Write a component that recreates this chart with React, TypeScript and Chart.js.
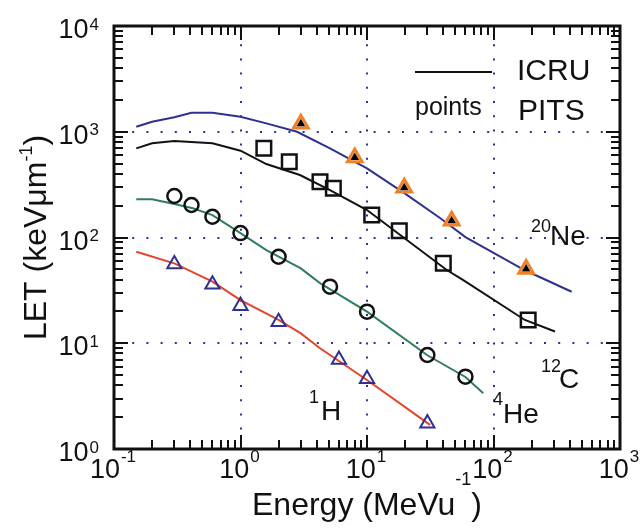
import React, { useEffect, useRef } from "react";
import { Chart, registerables } from "chart.js";
Chart.register(...registerables);

// ---- ICRU curves (energy MeV/u, LET keV/um) ----
const neLineE = [0.15, 0.2, 0.3, 0.41, 0.6, 1, 1.6, 2.8, 5.1, 10, 20, 38, 60, 177, 415];
const neLineLET = [1116, 1245, 1370, 1510, 1510, 1387, 1200, 1000, 697, 451, 260, 152, 101, 49, 30.7];
const cLineE = [0.15, 0.2, 0.3, 0.6, 1, 1.6, 2.95, 5.1, 10, 42.7, 57.7, 177, 306];
const cLineLET = [697, 778, 817, 778, 662, 495, 390, 281, 182, 49.3, 39.6, 16.6, 12.9];
const heLineE = [0.15, 0.2, 0.3, 0.42, 0.6, 1, 1.6, 3, 4.25, 10, 30, 60, 83];
const heLineLET = [230, 230, 207, 189, 163, 110, 76, 51, 37, 19.9, 7.7, 4.8, 3.36];
const hLineE = [0.15, 0.3, 0.6, 1, 2, 3, 4.25, 5.1, 10, 31.5];
const hLineLET = [73.4, 57, 38.2, 25.6, 16.6, 12.4, 8.96, 7.74, 4.49, 1.69];

// ---- PITS points ----
const nePtsE = [3, 8, 19.7, 46.7, 181];
const nePtsLET = [1190, 570, 295, 144, 50.5];
const cPtsE = [1.53, 2.43, 4.25, 5.42, 10.9, 18, 40.1, 188];
const cPtsLET = [697, 521, 337, 292, 163, 116, 57, 16.6];
const hePtsE = [0.3, 0.41, 0.6, 1, 2, 5.1, 10, 30, 60];
const hePtsLET = [247, 203, 157, 110, 65.8, 34.3, 19.9, 7.74, 4.83];
const hPtsE = [0.3, 0.6, 1, 2, 6, 10, 30];
const hPtsLET = [56, 36, 22.6, 15.9, 7, 4.6, 1.75];

// ---- axes ----
const xExponents = [-1, 0, 1, 2, 3];
const yExponents = [0, 1, 2, 3, 4];
const gridX = [1, 10, 100];
const gridY = [10, 100, 1000];
const minorMultipliers = [1, 2, 3, 4, 5, 6, 7, 8, 9];

const NAVY = "#2e3192";
const GREEN = "#2f7d60";
const RED = "#e5432c";
const ORANGE = "#ef8229";
const FONT = '"Liberation Sans", Arial, Helvetica, sans-serif';

const pts = (xs: number[], ys: number[]) => xs.map((v, i) => ({ x: v, y: ys[i] }));

function tickValues(exps: number[]) {
  const out: { v: number; major: boolean }[] = [];
  for (let i = 0; i < exps.length - 1; i++) {
    for (const m of minorMultipliers) out.push({ v: m * Math.pow(10, exps[i]), major: m === 1 });
  }
  out.push({ v: Math.pow(10, exps[exps.length - 1]), major: true });
  return out;
}

function setFont(ctx: CanvasRenderingContext2D, size: number) {
  ctx.font = `${size}px ${FONT}`;
}

function drawParts(ctx: CanvasRenderingContext2D, parts: [string, number, number][], x: number, y: number) {
  let cx = x;
  for (const [s, size, raise] of parts) {
    setFont(ctx, size);
    ctx.fillText(s, cx, y - raise);
    cx += ctx.measureText(s).width;
  }
  return cx;
}
function partsWidth(ctx: CanvasRenderingContext2D, parts: [string, number, number][]) {
  let w = 0;
  for (const [s, size] of parts) {
    setFont(ctx, size);
    w += ctx.measureText(s).width;
  }
  return w;
}

const decorPlugin = {
  id: "decor",
  beforeDatasetsDraw(chart: any) {
    const { ctx, chartArea: a, scales } = chart;
    const x = scales.x, y = scales.y;
    ctx.save();
    ctx.strokeStyle = NAVY;
    ctx.lineWidth = 2;
    ctx.setLineDash([2, 12.2]);
    for (const v of gridX) {
      const px = Math.round(x.getPixelForValue(v));
      ctx.beginPath();
      ctx.moveTo(px, a.top + 4);
      ctx.lineTo(px, a.bottom);
      ctx.stroke();
    }
    for (const v of gridY) {
      const py = Math.round(y.getPixelForValue(v));
      ctx.beginPath();
      ctx.moveTo(a.left + 4, py);
      ctx.lineTo(a.right, py);
      ctx.stroke();
    }
    ctx.restore();
  },
  afterDatasetsDraw(chart: any) {
    const { ctx, chartArea: a, scales } = chart;
    const x = scales.x, y = scales.y;
    ctx.save();
    ctx.setLineDash([]);
    ctx.strokeStyle = "#111";
    ctx.fillStyle = "#111";
    ctx.lineWidth = 2;
    const MAJ = 14, MIN = 9;
    for (const t of tickValues(xExponents)) {
      const px = Math.round(x.getPixelForValue(t.v));
      const len = t.major ? MAJ : MIN;
      ctx.beginPath();
      ctx.moveTo(px, a.bottom); ctx.lineTo(px, a.bottom - len);
      ctx.moveTo(px, a.top); ctx.lineTo(px, a.top + len);
      ctx.stroke();
    }
    for (const t of tickValues(yExponents)) {
      const py = Math.round(y.getPixelForValue(t.v));
      const len = t.major ? MAJ : MIN;
      ctx.beginPath();
      ctx.moveTo(a.left, py); ctx.lineTo(a.left + len, py);
      ctx.moveTo(a.right, py); ctx.lineTo(a.right - len, py);
      ctx.stroke();
    }
    ctx.lineWidth = 3;
    ctx.strokeRect(a.left, a.top, a.right - a.left, a.bottom - a.top);

    ctx.textBaseline = "alphabetic";
    ctx.textAlign = "left";
    for (const e of xExponents) {
      const px = x.getPixelForValue(Math.pow(10, e));
      setFont(ctx, 27);
      const wb = ctx.measureText("10").width;
      setFont(ctx, 17);
      const ws = ctx.measureText(String(e)).width;
      const start = px - 1 - (wb + 1 + ws) / 2;
      setFont(ctx, 27);
      ctx.fillText("10", start, a.bottom + 29);
      setFont(ctx, 17);
      ctx.fillText(String(e), start + wb + 1, a.bottom + 13);
    }
    for (const e of yExponents) {
      const py = y.getPixelForValue(Math.pow(10, e));
      setFont(ctx, 17);
      const ws = ctx.measureText(String(e)).width;
      setFont(ctx, 27);
      const wb = ctx.measureText("10").width;
      const right = a.left - 15;
      ctx.fillText("10", right - ws - 1 - wb, py + 12);
      setFont(ctx, 17);
      ctx.fillText(String(e), right - ws, py + 3.5);
    }
    const xt: [string, number, number][] = [["Energy (MeVu", 32, 0], ["-1", 18, 30], [")", 32, 0]];
    const xw = partsWidth(ctx, xt);
    drawParts(ctx, xt, (a.left + a.right) / 2 - xw / 2, 515);
    const yt: [string, number, number][] = [["LET (keV\u03bcm", 32, 0], ["-1", 18, 14], [")", 32, 0]];
    const yw = partsWidth(ctx, yt);
    ctx.save();
    ctx.translate(46, (a.top + a.bottom) / 2);
    ctx.rotate(-Math.PI / 2);
    drawParts(ctx, yt, -yw / 2, 0);
    ctx.restore();

    ctx.lineWidth = 2;
    ctx.beginPath();
    ctx.moveTo(415, 72);
    ctx.lineTo(492, 72);
    ctx.stroke();
    setFont(ctx, 30);
    ctx.fillText("ICRU", 517, 80);
    ctx.fillText("PITS", 518, 120);
    setFont(ctx, 25);
    ctx.fillText("points", 415, 115);

    drawParts(ctx, [["20", 18, 0]], 531, 232);
    drawParts(ctx, [["Ne", 28, 0]], 550, 245);
    drawParts(ctx, [["12", 18, 0]], 541, 372);
    drawParts(ctx, [["C", 28, 0]], 559, 388);
    drawParts(ctx, [["4", 18, 0]], 493, 405);
    drawParts(ctx, [["He", 28, 0]], 503, 423);
    drawParts(ctx, [["1", 18, 0]], 309, 403);
    drawParts(ctx, [["H", 28, 0]], 321, 420);
    ctx.restore();
  },
};

export default function App() {
  const ref = useRef<HTMLCanvasElement>(null);
  useEffect(() => {
    document.body.style.margin = "0";
    const lineDs = (xs: number[], ys: number[], color: string) => ({
      data: pts(xs, ys),
      showLine: true,
      borderColor: color,
      borderWidth: 2,
      pointRadius: 0,
      tension: 0,
      fill: false,
    });
    const chart = new Chart(ref.current as HTMLCanvasElement, {
      type: "scatter",
      data: {
        datasets: [
          { data: pts(nePtsE, nePtsLET), showLine: false, pointStyle: "triangle", pointRadius: 5, backgroundColor: "#000", borderColor: "#000", borderWidth: 0 },
          { data: pts(nePtsE, nePtsLET), showLine: false, pointStyle: "triangle", pointRadius: 8.5, backgroundColor: "#fff", borderColor: ORANGE, borderWidth: 3 },
          { data: pts(hPtsE, hPtsLET), showLine: false, pointStyle: "triangle", pointRadius: 8.2, backgroundColor: "rgba(0,0,0,0)", borderColor: NAVY, borderWidth: 2 },
          { data: pts(cPtsE, cPtsLET), showLine: false, pointStyle: "rect", pointRadius: 10.3, backgroundColor: "rgba(0,0,0,0)", borderColor: "#111", borderWidth: 2.5 },
          { data: pts(hePtsE, hePtsLET), showLine: false, pointStyle: "circle", pointRadius: 7, backgroundColor: "rgba(0,0,0,0)", borderColor: "#111", borderWidth: 2.5 },
          lineDs(neLineE, neLineLET, NAVY),
          lineDs(cLineE, cLineLET, "#111"),
          lineDs(heLineE, heLineLET, GREEN),
          lineDs(hLineE, hLineLET, RED),
        ] as any,
      },
      options: {
        responsive: false,
        animation: false,
        devicePixelRatio: 1,
        layout: { padding: { left: 114, right: 20, top: 26, bottom: 79 } },
        scales: {
          x: { type: "logarithmic", min: 0.1, max: 1000, display: false },
          y: { type: "logarithmic", min: 1, max: 10000, display: false },
        },
        plugins: { legend: { display: false }, tooltip: { enabled: false } },
        events: [],
      } as any,
      plugins: [decorPlugin],
    });
    return () => chart.destroy();
  }, []);
  return (
    <div style={{ width: 640, height: 528 }}>
      <canvas ref={ref} width={640} height={528} style={{ display: "block" }} />
    </div>
  );
}
